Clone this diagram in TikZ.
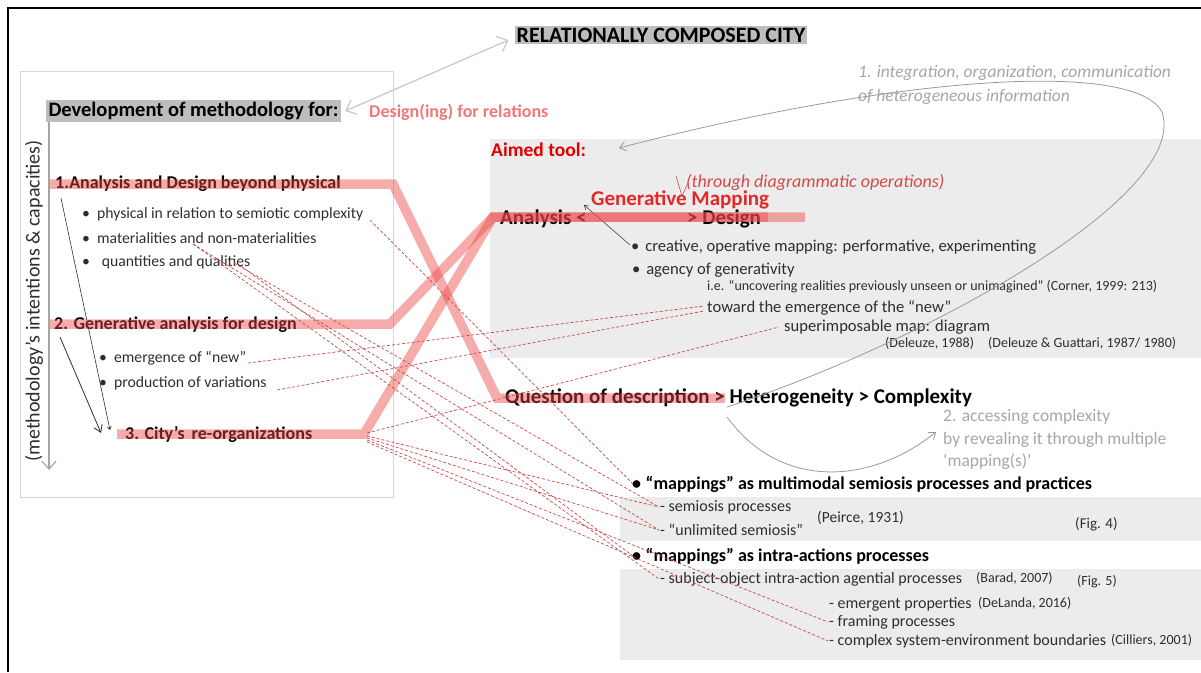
\documentclass[tikz,border=0pt]{standalone}
\usepackage{fontspec}
\setmainfont{Carlito}
\usetikzlibrary{arrows.meta}
\definecolor{txt}{HTML}{2E2E2E}
\definecolor{panel}{HTML}{ECECEC}
\definecolor{hl}{HTML}{BDBDBD}
\definecolor{boxline}{HTML}{D6D6D6}
\definecolor{barred}{RGB}{238,70,70}
\definecolor{dashred}{RGB}{205,70,70}
\definecolor{aimred}{HTML}{E00000}
\definecolor{genred}{HTML}{E42828}
\definecolor{softred}{HTML}{F07878}
\definecolor{itred}{HTML}{D44A4A}
\definecolor{lightg}{HTML}{A6A6A6}
\definecolor{curveg}{HTML}{9A9A9A}
\tikzset{
  t/.style={anchor=west, inner sep=0pt, text=txt},
  bigb/.style={font=\fontsize{21}{24}\selectfont\bfseries},
  medb/.style={font=\fontsize{18}{21}\selectfont\bfseries},
  body/.style={font=\fontsize{16.6}{19}\selectfont},
  lowb/.style={font=\fontsize{16}{19}\selectfont},
  small/.style={font=\fontsize{15.7}{18}\selectfont},
  tiny/.style={font=\fontsize{14}{16}\selectfont},
  redbar/.style={draw=barred, draw opacity=0.45, line width=9.5pt, line join=miter},
  dashlink/.style={draw=dashred, line width=0.7pt, dash pattern=on 3pt off 2pt},
  grayarrow/.style={draw=hl!80!white, line width=1.3pt, {Straight Barb[length=9pt,width=16pt]}-{Straight Barb[length=9pt,width=16pt]}},
  curvearrow/.style={draw=curveg, line width=0.8pt, -{Straight Barb[length=6pt,width=9pt]}},
}
\begin{document}
\begin{tikzpicture}[x=1pt,y=-1pt]
\useasboundingbox (0,0) rectangle (1201,672);
% outer frame
\draw[line width=2.5pt] (8,672) -- (8,8) -- (1201,8);
% panels
\fill[panel] (490,139) rectangle (1201,358);
\fill[panel] (620,497) rectangle (1201,541);
\fill[panel] (620,569) rectangle (1201,660);
% left box
\draw[boxline, line width=0.8pt] (20,71) rectangle (393,497);

% title and heading
\node[fill=hl, inner sep=2pt, font=\fontsize{22}{25}\selectfont\bfseries, text=black] (title) at (661,35) {RELATIONALLY COMPOSED CITY};
\node[fill=hl, inner sep=2.5pt, font=\fontsize{20.5}{24}\selectfont\bfseries, text=black] (dev) at (193.5,111) {Development of methodology for:};
\node[t, medb, text=softred] (desrel) at (369,112) {Design(ing) for relations};
\draw[grayarrow] ([xshift=4pt]dev.east) -- ([xshift=-6pt,yshift=-5pt]title.west);

% vertical axis
\node[rotate=90, inner sep=0pt, text=txt, font=\fontsize{20}{24}\selectfont] (vlab) at (34,301) {(methodology’s intentions \& capacities)};
\coordinate (vtop) at (49,122);
\coordinate (vbot) at (49,470);
\draw[draw=lightg, line width=1.2pt, -{Straight Barb[length=8pt,width=14pt]}] (vtop) -- (vbot);

% left items
\node[t, medb, text=black] (it1) at (55,184) {1.Analysis and Design beyond physical};
\node[t, small] (phys) at (82,214) {•\hspace{0.45em}physical in relation to semiotic complexity};
\node[t, small] (mat) at (82,238) {•\hspace{0.45em}materialities and non-materialities};
\node[t, small] (qua) at (82,262) {•\hspace{0.75em}quantities and qualities};
\node[t, medb, text=black] (it2) at (54,325) {2. Generative analysis for design};
\node[t, small] (emer) at (99,358) {•\hspace{0.45em}emergence of “new”};
\node[t, small] (prod) at (99,383) {•\hspace{0.45em}production of variations};
\node[t, medb, text=black] (it3) at (125,434) {3. City’s\, re-organizations};
\coordinate (a1s) at (61,198);
\coordinate (a2s) at (60,337);
\coordinate (a1e) at (110,430);
\coordinate (a2e) at (101,433);
\draw[txt, line width=0.6pt, -{Straight Barb[length=3pt,width=4pt]}] (a1s) -- (a1e);
\draw[txt, line width=0.8pt, -{Straight Barb[length=7pt,width=9pt]}] (a2s) -- (a2e);

% right side
\node[t, text=aimred, font=\fontsize{19.5}{23}\selectfont\bfseries] (aim) at (491,150) {Aimed tool:};
\node[t, text=itred, font=\fontsize{18}{21}\selectfont\itshape] (thr) at (686,182) {(through diagrammatic operations)};
\node[t, text=genred, font=\fontsize{21}{24}\selectfont\bfseries] (gen) at (591,200) {Generative Mapping};
\node[t, bigb, text=black] (anl) at (500,219) {Analysis <};
\node[t, bigb, text=black] (des) at (687,219) {> Design};
\coordinate (chk1) at (676,176);
\coordinate (chk2) at (682,196);
\coordinate (chk3) at (688,183);
\draw[itred, line width=0.6pt] (chk1) -- (chk2) -- (chk3);
\node[t, body] (cre) at (631,247) {•\hspace{0.35em}creative, operative mapping: performative, experimenting};
\node[t, body] (agc) at (632,270) {•\hspace{0.35em}agency of generativity};
\node[t, tiny] (ie) at (707,287) {i.e. “uncovering realities previously unseen or unimagined” (Corner, 1999: 213)};
\node[t, body] (tow) at (707,308) {toward the emergence of the “new”};
\node[t, body] (sup) at (784,327) {superimposable map: diagram};
\node[t, tiny] (del1) at (885,343) {(Deleuze, 1988)};
\node[t, tiny] (del2) at (988,343) {(Deleuze \& Guattari, 1987/ 1980)};
\coordinate (gtip) at (584,205);
\draw[txt, line width=0.5pt, -{Straight Barb[length=4pt,width=5pt]}] ([xshift=-1pt,yshift=2pt]cre.west) -- (gtip);

\node[t, bigb, text=black] (que) at (505,398) {Question of description > Heterogeneity > Complexity};
\node[t, text=lightg, font=\fontsize{17.5}{20}\selectfont] (acc1) at (943,417) {2. accessing complexity};
\node[t, text=lightg, font=\fontsize{17.5}{20}\selectfont] (acc2) at (943,440) {by revealing it through multiple};
\node[t, text=lightg, font=\fontsize{17.5}{20}\selectfont] (acc3) at (943,462) {‘mapping(s)’};
\node[t, text=lightg, font=\fontsize{17.5}{20}\selectfont\itshape] (int1) at (858,73) {1. integration, organization, communication};
\node[t, text=lightg, font=\fontsize{17.5}{20}\selectfont\itshape] (int2) at (858,97) {of heterogeneous information};

\node[t, medb, text=black] (mm) at (632,484) {•\hspace{0.25em}“mappings” as multimodal semiosis processes and practices};
\node[t, lowb] (semi) at (660,507) {- semiosis processes};
\node[t, lowb] (unl) at (660,530) {- “unlimited semiosis”};
\node[t, font=\fontsize{15.5}{18}\selectfont, text=txt] (pei) at (817,518) {(Peirce, 1931)};
\node[t, font=\fontsize{15}{18}\selectfont, text=txt] (f4) at (1075,524) {(Fig. 4)};
\node[t, medb, text=black] (ia) at (632,556) {•\hspace{0.25em}“mappings” as intra-actions processes};
\node[t, lowb] (subj) at (660,579) {- subject-object intra-action agential processes};
\node[t, tiny] (bar) at (976,578) {(Barad, 2007)};
\node[t, tiny] (f5) at (1077,582) {(Fig. 5)};
\node[t, lowb] (emp) at (829,604) {- emergent properties};
\node[t, tiny] (dla) at (978,603) {(DeLanda, 2016)};
\node[t, lowb] (fra) at (829,622) {- framing processes};
\node[t, lowb] (cpx) at (829,641) {- complex system-environment boundaries};
\node[t, tiny] (cil) at (1111,640) {(Cilliers, 2001)};

% curves
\coordinate (c1s) at (727,407);
\coordinate (c1m) at (1162,112);
\coordinate (c1e) at (619,148);
\coordinate (c2s) at (727,417);
\coordinate (c2e) at (936,432);
\draw[curvearrow] (c1s) .. controls (930,340) and (1190,195) .. (c1m) .. controls (1135,60) and (900,75) .. (c1e);
\draw[curvearrow] (c2s) .. controls (780,490) and (870,485) .. (c2e);

% red bars
\coordinate (b1a) at (50,184);
\coordinate (b1b) at (393,184);
\coordinate (b1c) at (497,398);
\coordinate (b1d) at (725,398);
\coordinate (b2a) at (50,324);
\coordinate (b2b) at (390,324);
\coordinate (b2c) at (493,217);
\coordinate (b2d) at (768,217);
\coordinate (b3a) at (117,434);
\coordinate (b3b) at (364,434);
\coordinate (b3d) at (805,217);
\draw[redbar] (b1a) -- (b1b) -- (b1c) -- (b1d);
\draw[redbar] (b2a) -- (b2b) -- (b2c) -- (b2d);
\draw[redbar] (b3a) -- (b3b) -- (b2c) -- (b3d);

% dashed link sources
\coordinate (s1) at (370,220);
\coordinate (s2) at (193,244);
\coordinate (s3a) at (234,263);
\coordinate (s3b) at (241,266);
\coordinate (s4) at (248,363);
\coordinate (s5) at (277,390);
\coordinate (s6a) at (367,433);
\coordinate (s6b) at (367,436);
\coordinate (s6c) at (367,438);
\coordinate (s6d) at (367,440);
\coordinate (s6e) at (367,442);
% dashed links
\draw[dashlink] (s1) -- ([xshift=1pt]mm.west);
\draw[dashlink] (s2) -- ([xshift=-1pt]unl.west);
\draw[dashlink] (s2) -- ([xshift=-1pt]subj.west);
\draw[dashlink] (s3a) -- ([xshift=-1pt]semi.west);
\draw[dashlink] (s3b) -- ([xshift=1pt]ia.west);
\draw[dashlink] (s4) -- ([xshift=-3pt,yshift=2pt]tow.west);
\draw[dashlink] (s5) -- ([xshift=-3pt,yshift=-3pt]tow.west);
\draw[dashlink] (s6a) -- ([xshift=-5pt]sup.west);
\draw[dashlink] (s6b) -- ([xshift=-1pt]semi.west);
\draw[dashlink] (s6c) -- ([xshift=-1pt]unl.west);
\draw[dashlink] (s6d) -- ([xshift=-1pt]fra.west);
\draw[dashlink] (s6e) -- ([xshift=-1pt]cpx.west);
\end{tikzpicture}
\end{document}
